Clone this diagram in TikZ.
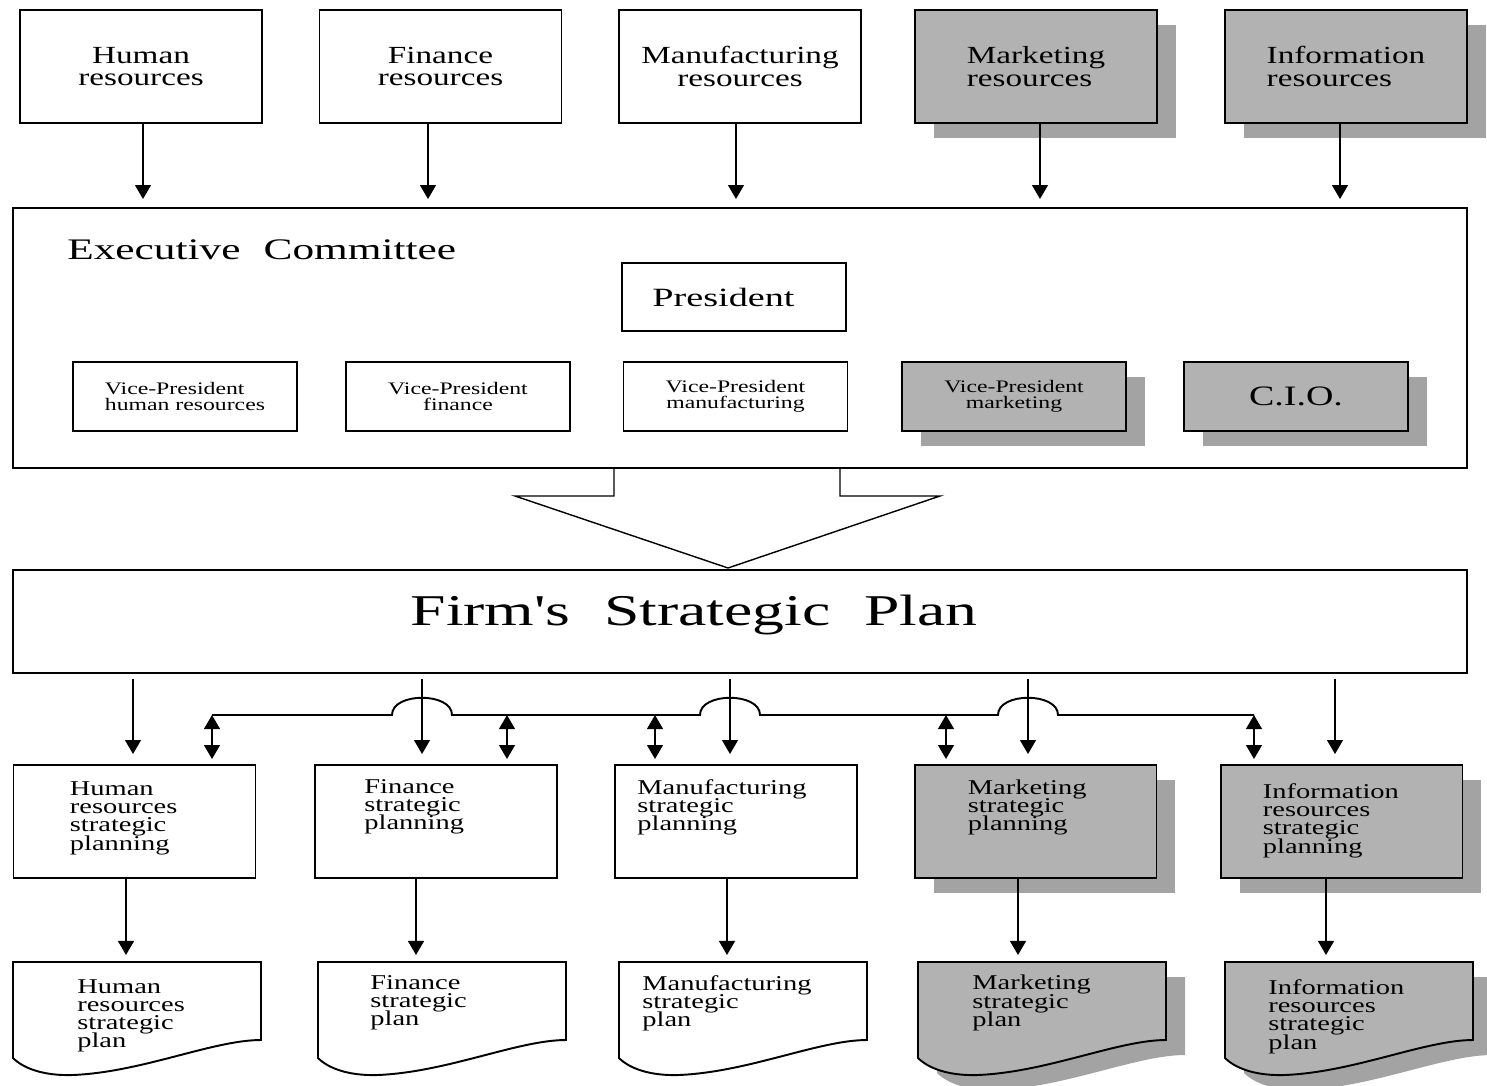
\documentclass[tikz,border=0pt]{standalone}
\usepackage{fontspec}
\setmainfont{Liberation Serif}
\newfontfamily\widefont[FakeStretch=1.35]{Liberation Serif}
\newfontfamily\widerfont[FakeStretch=1.45]{Liberation Serif}
\usetikzlibrary{arrows.meta,shadows}

% lines of a label may crowd each other, as in the original
\lineskiplimit=-\maxdimen

% outline of a plan document, left edge at #2
\newcommand{\plandoc}[3]{%
  \draw[#3] (#2,962) -- ({#2+248},962) -- ({#2+248},1040)
    .. controls ({#2+200},1040) and ({#2+130},1072) .. ({#2+60},1075)
    .. controls ({#2+30},1076) and ({#2+10},1068) .. (#2,1058) -- cycle;
  \coordinate (#1) at ({#2+124},962);
}

\tikzset{
  box/.style={draw, line width=1.1pt, fill=white, inner sep=0pt},
  greybox/.style={box, fill=black!30,
    drop shadow={shadow xshift=0.38cm, shadow yshift=-0.3cm, fill=black!36, opacity=1}},
  resbox/.style={minimum width=4.84cm, minimum height=2.26cm,
    font=\widefont\fontsize{14}{13}\selectfont},
  vpbox/.style={minimum width=4.48cm, minimum height=1.38cm,
    font=\widefont\fontsize{10}{9}\selectfont},
  planbox/.style={minimum width=4.84cm, minimum height=2.26cm},
  plantext/.style={anchor=north west, inner sep=0pt, align=left,
    font=\widefont\fontsize{12}{10.4}\selectfont},
  arr/.style={line width=1.1pt, -{Triangle[width=9pt,length=8pt]}},
  dblarr/.style={line width=1.1pt,
    {Triangle[width=9pt,length=8pt]}-{Triangle[width=9pt,length=8pt]}},
  doc/.style={line width=1.1pt, fill=white},
  greydoc/.style={doc, fill=black!30,
    drop shadow={shadow xshift=0.38cm, shadow yshift=-0.3cm, fill=black!36, opacity=1}},
}

\begin{document}
\begin{tikzpicture}[x=0.02cm, y=-0.02cm]
  \useasboundingbox (0,0) rectangle (1487,1085);

  % resource boxes along the top
  \node[box, resbox, align=center] (hr) at (141,66.5) {Human\\resources};
  \node[box, resbox, align=center] (fin) at (440.5,66.5) {Finance\\resources};
  \node[box, resbox, align=center] (man) at (740,66.5) {Manufacturing\\resources};
  \node[greybox, resbox, align=left] (mkt) at (1036,66.5) {Marketing\\resources};
  \node[greybox, resbox, align=left] (inf) at (1346,66.5) {Information\\resources};

  % executive committee and its members
  \node[box, minimum width=29.08cm, minimum height=5.2cm] (exec) at (740,338) {};
  \node[anchor=west, inner sep=0pt, font=\widerfont\fontsize{17}{17}\selectfont]
    (title) at (67,250) {Executive\hspace{7pt} Committee};
  \node[box, minimum width=4.48cm, minimum height=1.36cm,
    font=\widerfont\fontsize{15}{15}\selectfont] (pres) at (734,297) {\hspace{-12pt}President};
  \node[box, vpbox, align=left] (vphr) at (185,396.5) {Vice-President\\human resources};
  \node[box, vpbox, align=center] (vpfin) at (458,396.5) {Vice-President\\finance};
  \node[box, vpbox, align=center] (vpman) at (735.5,396.5) {Vice-President\\manufacturing};
  \node[greybox, vpbox, align=center] (vpmkt) at (1014,396.5) {Vice-President\\marketing};
  \node[greybox, vpbox, font=\widefont\fontsize{16}{16}\selectfont] (cio) at (1296,396.5) {C.I.O.};

  % resources feed the committee
  \foreach \n/\x in {hr/143, fin/428, man/736, mkt/1040, inf/1340} {
    \coordinate (c\n) at (\x,0);
    \draw[arr, shorten >=0.16cm] (\n.south -| c\n) -- (exec.north -| c\n);
  }

  % big hollow arrow down to the plan
  \draw[line width=0.8pt] (614,468) -- (614,496) -- (515,496) -- (728,568)
    -- (940,496) -- (840,496) -- (840,468);

  % firm's strategic plan
  \node[box, minimum width=29.08cm, minimum height=2.06cm] (plan) at (740,621.5) {};
  \node[inner sep=0pt, font=\widerfont\fontsize{25}{25}\selectfont]
    (plantitle) at (694,615) {Firm's\hspace{10pt} Strategic\hspace{10pt} Plan};

  % strategic planning boxes
  \node[box, planbox] (hrp) at (134.5,821.5) {};
  \node[box, planbox] (fsp) at (436,821.5) {};
  \node[box, planbox] (msp) at (736,821.5) {};
  \node[greybox, planbox] (mkp) at (1035.5,821.5) {};
  \node[greybox, planbox] (isp) at (1341.5,821.5) {};
  \node[plantext] (hrpt) at ([shift={(57,17)}]hrp.north west) {Human\\resources\\strategic\\planning};
  \node[plantext] (fspt) at ([shift={(50,15)}]fsp.north west) {Finance\\strategic\\planning};
  \node[plantext] (mspt) at ([shift={(23,15)}]msp.north west) {Manufacturing\\strategic\\planning};
  \node[plantext] (mkpt) at ([shift={(54,15)}]mkp.north west) {Marketing\\strategic\\planning};
  \node[plantext] (ispt) at ([shift={(43,19)}]isp.north west) {Information\\resources\\strategic\\planning};

  % plan handed down to each planning group
  \foreach \n/\x in {hrp/133, fsp/422, msp/730, mkp/1028, isp/1335} {
    \coordinate (d\n) at (\x,0);
    \draw[arr, shorten <=0.1cm, shorten >=0.2cm] (plan.south -| d\n) -- (\n.north -| d\n);
  }

  % coordination line between the groups
  \foreach \n/\x in {hrp/212, fsp/507, msp/655, mkp/946, isp/1254} {
    \coordinate (b\n) at (\x,715);
    \draw[dblarr, shorten >=0.1cm] (b\n) -- (b\n |- \n.north);
  }
  \draw[line width=1.1pt] (bhrp) -- (392,715) .. controls (392,692) and (452,692) .. (452,715)
    -- (700,715) .. controls (700,692) and (760,692) .. (760,715)
    -- (998,715) .. controls (998,692) and (1058,692) .. (1058,715) -- (bisp);

  % the resulting plan documents
  \plandoc{hrd}{13}{doc}
  \plandoc{fsd}{318}{doc}
  \plandoc{msd}{619}{doc}
  \plandoc{mkd}{918}{greydoc}
  \plandoc{isd}{1225}{greydoc}
  \node[plantext] (hrdt) at ([shift={(64,17)}]hrd -| 13,0) {Human\\resources\\strategic\\plan};
  \node[plantext] (fsdt) at ([shift={(52,13)}]fsd -| 318,0) {Finance\\strategic\\plan};
  \node[plantext] (msdt) at ([shift={(23,13)}]msd -| 619,0) {Manufacturing\\strategic\\plan};
  \node[plantext] (mkdt) at ([shift={(54,13)}]mkd -| 918,0) {Marketing\\strategic\\plan};
  \node[plantext] (isdt) at ([shift={(43,17)}]isd -| 1225,0) {Information\\resources\\strategic\\plan};

  % each group writes its plan
  \foreach \n/\m/\x in {hrp/hrd/126, fsp/fsd/416, msp/msd/727, mkp/mkd/1018, isp/isd/1326} {
    \coordinate (e\n) at (\x,0);
    \draw[arr, shorten >=0.14cm] (\n.south -| e\n) -- (\m -| e\n);
  }
\end{tikzpicture}
\end{document}
